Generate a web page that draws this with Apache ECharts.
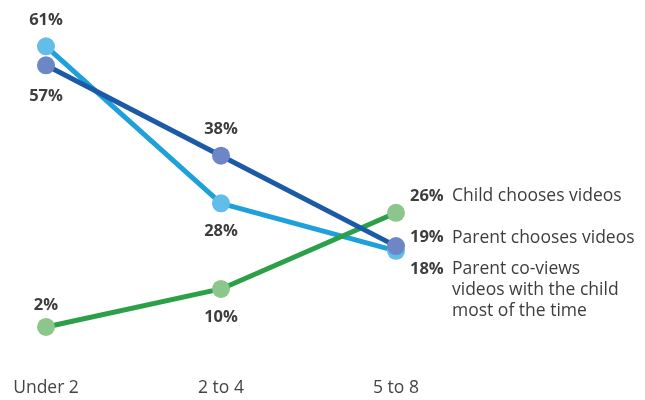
<!DOCTYPE html>
<html><head><meta charset="utf-8">
<script src="https://cdn.jsdelivr.net/npm/echarts@6/dist/echarts.min.js"></script>
<style>html,body{margin:0;padding:0;background:#fff}#c{width:645px;height:400px}</style>
</head><body><div id="c"></div>
<script>
const categories = ['Under 2', '2 to 4', '5 to 8'];
const coViews = [61, 28, 18];
const parentChooses = [57, 38, 19];
const childChooses = [2, 10, 26];
const seriesNames = ['Parent co-views\nvideos with the child\nmost of the time', 'Parent chooses videos', 'Child chooses videos'];

const FONT = '"Open Sans", "Noto Sans", sans-serif';
const valLabel = (pos, dist) => ({show: true, position: pos, distance: dist, formatter: '{c}%', fontFamily: FONT, fontWeight: 'bold', fontSize: 16.5, color: '#3d3d3d'});

function buildData(values, positions, dists, name, endOffset) {
  return values.map((v, i) => {
    if (i === values.length - 1) {
      const lines = name.split('\n');
      const fmt = lines.map((l, k) => (k === 0 ? '{b|' + v + '%}' : '{b|}') + '{t|' + l + '}').join('\n');
      return {value: v, label: {show: true, position: 'right', distance: 5, offset: endOffset,
        formatter: fmt,
        rich: {b: {fontFamily: FONT, fontWeight: 'bold', fontSize: 16.5, color: '#3d3d3d', lineHeight: 21, width: 42},
               t: {fontFamily: FONT, fontSize: 17.5, color: '#3d3d3d', lineHeight: 21}},
        align: 'left', verticalAlign: 'top'}};
    }
    return {value: v, label: valLabel(positions[i], dists[i])};
  });
}

function mk(name, values, positions, dists, lineColor, dotColor, endOffset, z) {
  return {type: 'line', name: name, z: z, data: buildData(values, positions, dists, name, endOffset),
    symbol: 'circle', symbolSize: 18, lineStyle: {color: lineColor, width: 5},
    itemStyle: {color: dotColor}, animation: false};
}

const chart = echarts.init(document.getElementById('c'));
chart.setOption({
  grid: {left: 46, right: 249, top: 3.5, bottom: 63.5},
  xAxis: {type: 'category', data: categories, boundaryGap: false,
    axisLine: {show: false}, axisTick: {show: false}, splitLine: {show: false},
    axisLabel: {margin: 43, fontFamily: FONT, fontSize: 17.5, color: '#444'}},
  yAxis: {type: 'value', min: 0, max: 70, show: false},
  series: [
    mk(seriesNames[0], coViews, ['top', 'bottom'], [9, 10], '#1ea0da', '#62bde8', [0, 8], 2),
    mk(seriesNames[2], childChooses, ['top', 'bottom'], [4, 11], '#2ca048', '#8cc68c', [0, -27], 3),
    mk(seriesNames[1], parentChooses, ['bottom', 'top'], [13, 9], '#1b5aa6', '#6d86c6', [0, -19], 4)
  ]
});
</script></body></html>
